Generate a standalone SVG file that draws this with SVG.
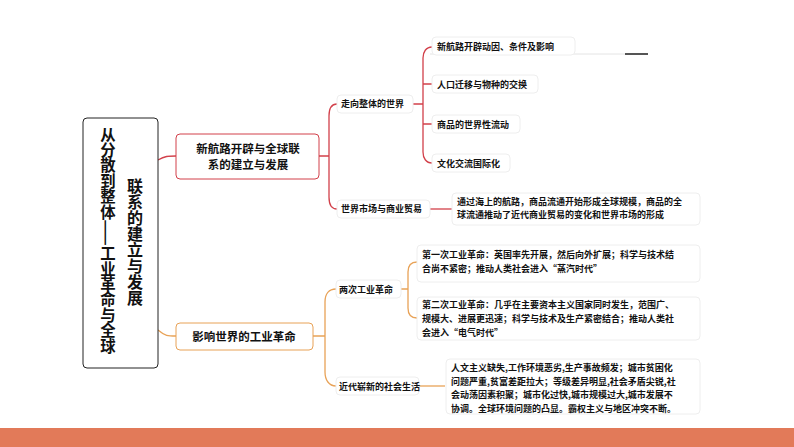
<svg xmlns="http://www.w3.org/2000/svg" width="794" height="447" viewBox="0 0 794 447">
<style>
text{font-family:"Noto Sans CJK SC","Noto Sans",sans-serif;font-weight:bold;fill:#111}
.s{font-size:9px}
.m{font-size:11.5px}
.v{font-size:16px;writing-mode:tb}
.box{fill:#fff;stroke:#eee;stroke-width:1}
.r{fill:none;stroke:#d2404a;stroke-width:1.3}
.o{fill:none;stroke:#e8a257;stroke-width:1.3}
</style>
<rect width="794" height="447" fill="#fff"/>
<rect x="0" y="428" width="794" height="19" fill="#e27a59"/>
<line x1="430" y1="54" x2="648" y2="54" stroke="#e4e4e4" stroke-width="1"/>
<line x1="625" y1="54" x2="648" y2="54" stroke="#555" stroke-width="2"/>
<g id="connectors">
<path class="r" d="M158,160 C165,156 168,156 176,156"/>
<path class="o" d="M158,330 C165,336 168,336 176,336"/>
<path class="r" d="M319,156 H329 M337,104 C331,104 329,110 329,116 V197 C329,203 331,209 337,209"/>
<path class="r" d="M413,104 H423 M432,47 C426,47 423,52 423,58 V152 C423,158 426,163 432,163 M423,84 C423,84 426,84 432,84 M423,124 H432"/>
<path class="r" d="M430,209 H452"/>
<path class="o" d="M313,336 H325 M336,289 C329,289 325,294 325,302 V372 C325,380 329,386 336,386"/>
<path class="o" d="M401,289 H408 M417,262 C411,262 408,266 408,272 V308 C408,314 411,318 417,318"/>
<path class="o" d="M419,386 H445"/>
</g>
<g id="root">
<rect x="83" y="118" width="75" height="250" rx="4" fill="#fff" stroke="#222" stroke-width="1"/>
<text class="v" x="108" y="127" style="font-size:15.4px">从分散到整体——工业革命与全球</text>
<text class="v" x="135" y="178">联系的建立与发展</text>
</g>
<g id="n1">
<rect x="176" y="134" width="143" height="45" rx="4" fill="#fff" stroke="#d2404a"/>
<text class="m" x="248" y="153" text-anchor="middle">新航路开辟与全球联</text>
<text class="m" x="248" y="169" text-anchor="middle">系的建立与发展</text>
</g>
<g id="n2">
<rect x="176" y="323" width="137" height="27" rx="4" fill="#fff" stroke="#e8a257"/>
<text class="m" x="244" y="341" text-anchor="middle">影响世界的工业革命</text>
</g>
<g id="n11"><rect class="box" x="337" y="95" width="76" height="18" rx="4"/><text class="s" x="341" y="107">走向整体的世界</text></g>
<g id="n12"><rect class="box" x="337" y="200" width="93" height="18" rx="4"/><text class="s" x="341" y="212">世界市场与商业贸易</text></g>
<g id="n111"><rect class="box" x="432" y="37" width="143" height="18" rx="4"/><text class="s" x="437" y="49.5">新航路开辟动因、条件及影响</text></g>
<g id="n112"><rect class="box" x="432" y="75" width="106" height="18" rx="4"/><text class="s" x="437" y="87.5">人口迁移与物种的交换</text></g>
<g id="n113"><rect class="box" x="432" y="115" width="88" height="18" rx="4"/><text class="s" x="437" y="127.5">商品的世界性流动</text></g>
<g id="n114"><rect class="box" x="432" y="154" width="78" height="18" rx="4"/><text class="s" x="437" y="166.5">文化交流国际化</text></g>
<g id="n121"><rect class="box" x="452" y="193" width="248" height="32" rx="4"/>
<text class="s" x="457" y="205">通过海上的航路，商品流通开始形成全球规模，商品的全</text>
<text class="s" x="457" y="218">球流通推动了近代商业贸易的变化和世界市场的形成</text></g>
<g id="n21"><rect class="box" x="336" y="280" width="65" height="18" rx="4"/><text class="s" x="339" y="292.5">两次工业革命</text></g>
<g id="n22"><rect class="box" x="336" y="377" width="83" height="18" rx="4"/><text class="s" x="339" y="389.5">近代崭新的社会生活</text></g>
<g id="n211"><rect class="box" x="417" y="245" width="283" height="37" rx="4"/>
<text class="s" x="422" y="258">第一次工业革命：英国率先开展，然后向外扩展；科学与技术结</text>
<text class="s" x="422" y="272">合尚不紧密；推动人类社会进入“蒸汽时代”</text></g>
<g id="n212"><rect class="box" x="417" y="297" width="283" height="43" rx="4"/>
<text class="s" x="422" y="308">第二次工业革命：几乎在主要资本主义国家同时发生，范围广、</text>
<text class="s" x="422" y="322">规模大、进展更迅速；科学与技术及生产紧密结合；推动人类社</text>
<text class="s" x="422" y="336">会进入“电气时代”</text></g>
<g id="n221"><rect class="box" x="446" y="359" width="254" height="55" rx="4"/>
<text class="s" x="451" y="371">人文主义缺失,工作环境恶劣,生产事故频发；城市贫困化</text>
<text class="s" x="451" y="384.5">问题严重,贫富差距拉大；等级差异明显,社会矛盾尖锐,社</text>
<text class="s" x="451" y="398">会动荡因素积聚；城市化过快,城市规模过大,城市发展不</text>
<text class="s" x="451" y="411.5">协调。全球环境问题的凸显。霸权主义与地区冲突不断。</text></g>
</svg>
